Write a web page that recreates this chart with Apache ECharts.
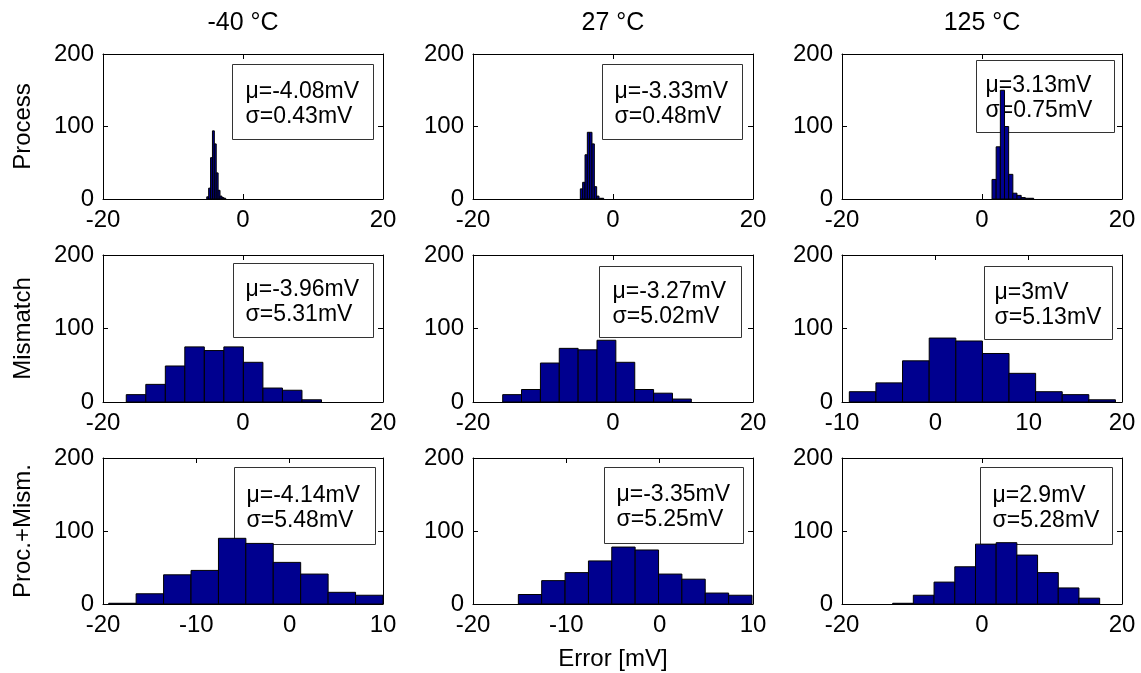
<!DOCTYPE html>
<html>
<head>
<meta charset="utf-8">
<script src="https://cdn.jsdelivr.net/npm/echarts@6/dist/echarts.min.js"></script>
<style>
  html, body { margin: 0; padding: 0; background: #fff; }
  #chart { width: 1141px; height: 673px; }
</style>
</head>
<body>
<div id="chart"></div>
<script>
// Column and row headings
const temperatures = ['-40 °C', '27 °C', '125 °C'];
const sources = ['Process', 'Mismatch', 'Proc.+Mism.'];
const xLabel = 'Error [mV]';

// Histogram bin centres [mV] and counts, one pair per panel
const procCentresCold = [-5.04, -4.77, -4.50, -4.23, -3.96, -3.69, -3.42, -3.14, -2.87, -2.60];
const procCountsCold  = [3, 15, 57, 94, 76, 36, 12, 4, 2, 1];
const procCentresRoom = [-4.50, -4.17, -3.83, -3.50, -3.17, -2.83, -2.50, -2.17, -1.83, -1.50];
const procCountsRoom  = [14, 23, 61, 92, 92, 76, 17, 4, 1, 1];
const procCentresHot  = [1.73, 2.32, 2.92, 3.51, 4.11, 4.70, 5.30, 5.89, 6.49, 7.08];
const procCountsHot   = [27, 72, 150, 100, 34, 8, 5, 2, 1, 1];

const mismCentresCold = [-15.28, -12.49, -9.70, -6.92, -4.13, -1.34, 1.45, 4.24, 7.03, 9.82];
const mismCountsCold  = [10, 24, 49, 75, 70, 75, 54, 19, 16, 3];
const mismCentresRoom = [-14.41, -11.72, -9.02, -6.33, -3.63, -0.94, 1.76, 4.45, 7.15, 9.84];
const mismCountsRoom  = [10, 17, 53, 73, 71, 84, 54, 17, 12, 4];
const mismCentresHot  = [-7.79, -4.94, -2.09, 0.77, 3.62, 6.47, 9.32, 12.17, 15.02, 17.87];
const mismCountsHot   = [14, 26, 56, 87, 83, 66, 39, 14, 10, 3];

const bothCentresCold = [-17.92, -14.98, -12.04, -9.10, -6.16, -3.23, -0.29, 2.65, 5.59, 8.53];
const bothCountsCold  = [1, 14, 40, 46, 90, 83, 57, 41, 16, 12];
const bothCentresRoom = [-13.89, -11.39, -8.88, -6.38, -3.88, -1.37, 1.13, 3.63, 6.14, 8.64];
const bothCountsRoom  = [13, 32, 43, 59, 78, 74, 41, 34, 15, 12];
const bothCentresHot  = [-11.28, -8.33, -5.37, -2.41, 0.55, 3.50, 6.46, 9.42, 12.37, 15.33];
const bothCountsHot   = [1, 12, 30, 51, 82, 84, 67, 43, 22, 8];

// Mean and standard deviation printed in each panel [mV]
const meanValues  = [-4.08, -3.33, 3.13, -3.96, -3.27, 3, -4.14, -3.35, 2.9];
const sigmaValues = [0.43, 0.48, 0.75, 5.31, 5.02, 5.13, 5.48, 5.25, 5.28];

// Axis ranges and tick steps
const xMins  = [-20, -20, -20, -20, -20, -10, -20, -20, -20];
const xMaxs  = [20, 20, 20, 20, 20, 20, 10, 10, 20];
const xSteps = [20, 20, 20, 20, 20, 10, 10, 10, 20];
const yMin = 0, yMax = 200, yStep = 100;

const centres = [procCentresCold, procCentresRoom, procCentresHot,
                 mismCentresCold, mismCentresRoom, mismCentresHot,
                 bothCentresCold, bothCentresRoom, bothCentresHot];
const counts  = [procCountsCold, procCountsRoom, procCountsHot,
                 mismCountsCold, mismCountsRoom, mismCountsHot,
                 bothCountsCold, bothCountsRoom, bothCountsHot];

// Layout (pixels)
const colLeft = [103, 473, 842];
const colWidth = 280;
const rowTop = [54, 255, 458];
const rowHeight = [145, 147, 146];
// Stats box per panel: [left, top, width, height, text padding]
const boxes = [
  [232, 64, 141, 75, 13], [602, 64, 140, 75, 12], [976, 60, 138, 72, 9],
  [233, 263, 140, 74, 12], [599, 266, 142, 71, 13], [984, 266, 128, 73, 10],
  [234, 467, 141, 77, 12], [604, 467, 139, 76, 12], [980, 467, 132, 77, 12]
];

const FONT = 'Liberation Sans, Arial, Helvetica, sans-serif';
const FS = 24;
const barFill = '#00008f';

function renderBin(params, api) {
  const c = api.value(0), w = api.value(1), n = api.value(2);
  const topLeft = api.coord([c - w / 2, n]);
  const bottomRight = api.coord([c + w / 2, 0]);
  return {
    type: 'rect',
    shape: {
      x: topLeft[0], y: topLeft[1],
      width: bottomRight[0] - topLeft[0],
      height: bottomRight[1] - topLeft[1]
    },
    style: { fill: barFill, stroke: '#000', lineWidth: 1 }
  };
}

const grids = [], xAxes = [], yAxes = [], series = [], graphics = [];
const axisLine = { show: true, onZero: false, lineStyle: { color: '#000', width: 1 } };
const axisTick = { show: true, inside: true, length: 5, lineStyle: { color: '#000', width: 1 } };
const labelStyle = { color: '#000', fontSize: FS, fontFamily: FONT };

for (let i = 0; i < 9; i++) {
  const row = Math.floor(i / 3), col = i % 3;
  grids.push({ left: colLeft[col], top: rowTop[row], width: colWidth, height: rowHeight[row], containLabel: false });

  const xBase = { gridIndex: i, type: 'value', min: xMins[i], max: xMaxs[i], interval: xSteps[i],
                  axisLine, axisTick, splitLine: { show: false } };
  const bottomAxis = Object.assign({}, xBase, {
    position: 'bottom',
    axisLabel: Object.assign({ margin: 9 }, labelStyle)
  });
  if (row === 2 && col === 1) {
    Object.assign(bottomAxis, { name: xLabel, nameLocation: 'middle', nameGap: 43,
      nameTextStyle: labelStyle });
  }
  const topAxis = Object.assign({}, xBase, { position: 'top', axisLabel: { show: false } });
  if (row === 0) {
    Object.assign(topAxis, { name: temperatures[col], nameLocation: 'middle', nameGap: 18,
      nameTextStyle: { color: '#000', fontSize: 25, fontFamily: FONT } });
  }
  xAxes.push(bottomAxis, topAxis);

  const yBase = { gridIndex: i, type: 'value', min: yMin, max: yMax, interval: yStep,
                  axisLine, axisTick, splitLine: { show: false } };
  const leftAxis = Object.assign({}, yBase, {
    position: 'left',
    axisLabel: Object.assign({ margin: 9 }, labelStyle)
  });
  if (col === 0) {
    Object.assign(leftAxis, { name: sources[row], nameLocation: 'middle', nameGap: 68,
      nameTextStyle: labelStyle });
  }
  const rightAxis = Object.assign({}, yBase, { position: 'right', axisLabel: { show: false } });
  yAxes.push(leftAxis, rightAxis);

  const c = centres[i];
  const width = (c[c.length - 1] - c[0]) / (c.length - 1);
  series.push({
    type: 'custom',
    xAxisIndex: 2 * i,
    yAxisIndex: 2 * i,
    renderItem: renderBin,
    encode: { x: 0, y: 2 },
    clip: true,
    z: 5,
    data: c.map((v, k) => [v, width, counts[i][k]])
  });

  const b = boxes[i];
  graphics.push({
    type: 'group', left: b[0], top: b[1], z: 1,
    children: [
      { type: 'rect', shape: { x: 0, y: 0, width: b[2], height: b[3] },
        style: { fill: '#fff', stroke: '#333', lineWidth: 1 } },
      { type: 'text', x: b[4], y: b[3] / 2 + 2,
        style: { text: 'μ=' + meanValues[i] + 'mV\nσ=' + sigmaValues[i] + 'mV',
                 font: '23px ' + FONT, fill: '#000', verticalAlign: 'middle',
                 textAlign: 'left', lineHeight: 25 } }
    ]
  });
}

const chart = echarts.init(document.getElementById('chart'), null, { renderer: 'canvas' });
chart.setOption({
  animation: false,
  backgroundColor: '#fff',
  grid: grids,
  xAxis: xAxes,
  yAxis: yAxes,
  series: series,
  graphic: graphics
});
</script>
</body>
</html>
